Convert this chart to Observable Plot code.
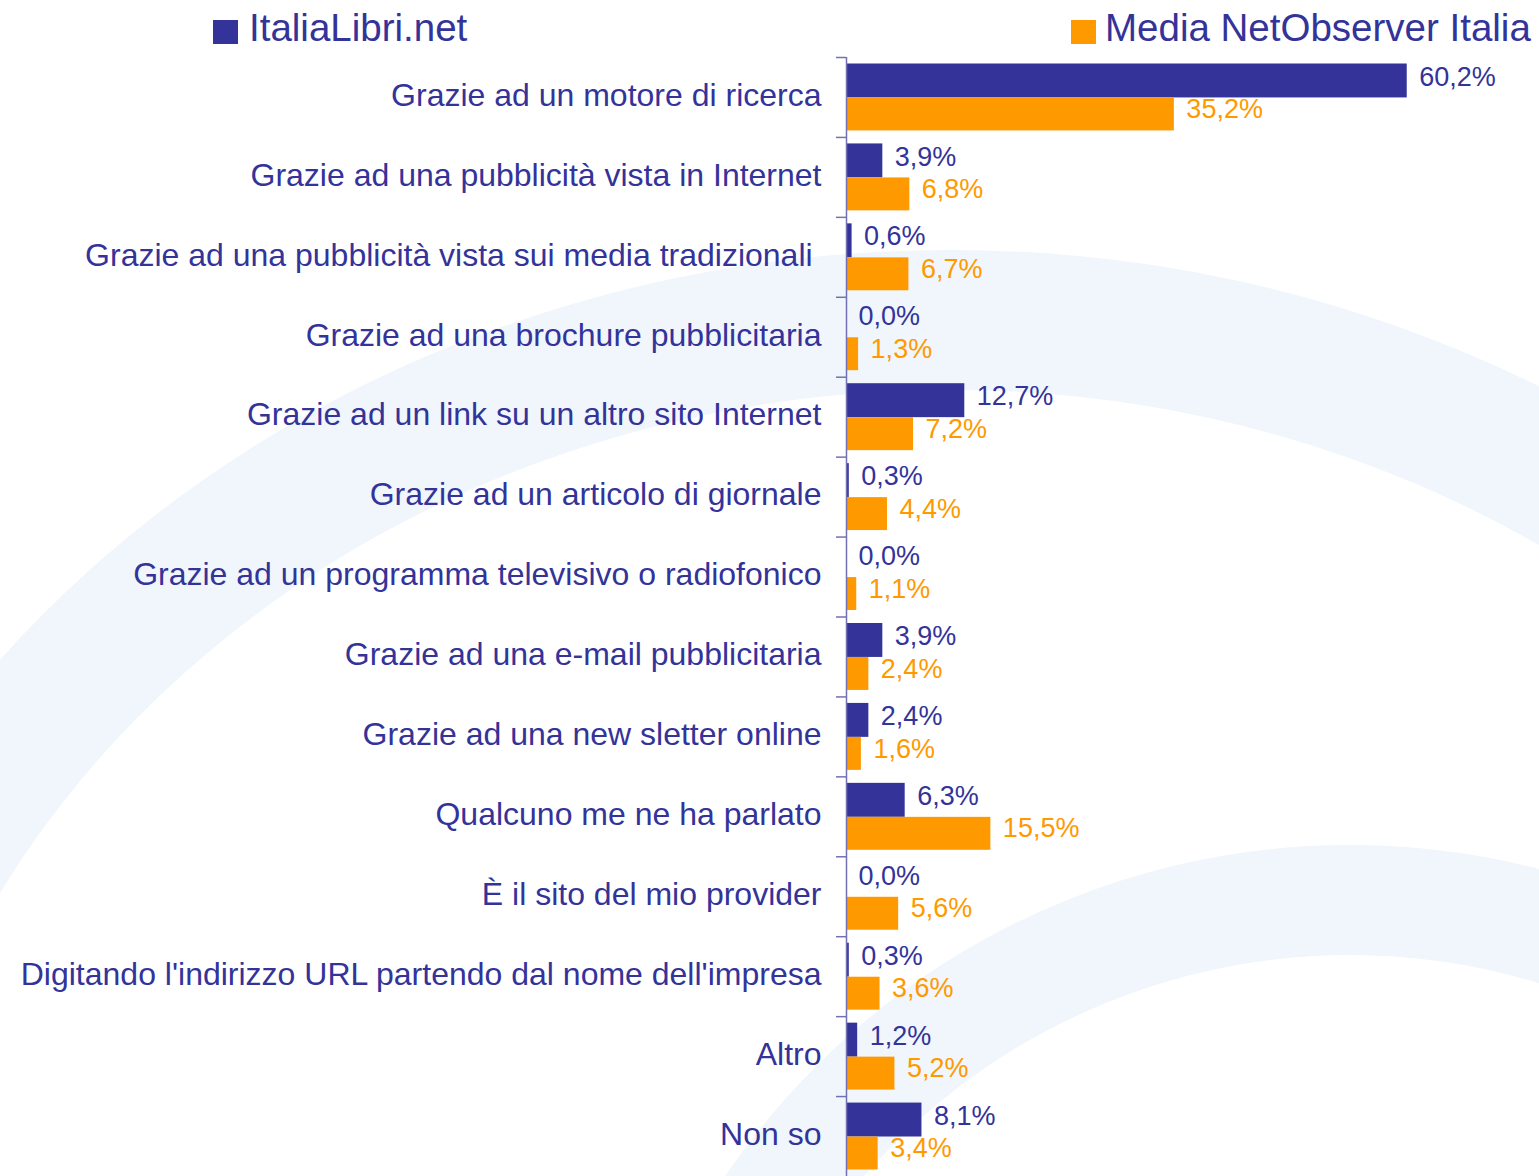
<!DOCTYPE html>
<html>
<head>
<meta charset="utf-8">
<script src="https://cdn.jsdelivr.net/npm/d3@7"></script>
<script src="https://cdn.jsdelivr.net/npm/@observablehq/plot@0.6"></script>
<style>
  html, body { margin: 0; padding: 0; background: #ffffff; }
  #wrap { position: relative; width: 1539px; height: 1176px; overflow: hidden; font-family: "Liberation Sans", Arial, sans-serif; }
  #bg { position: absolute; left: 0; top: 0; z-index: 0; }
  #legend-holder, #chart { position: relative; z-index: 1; line-height: 0; }
  #legend-holder svg, #chart svg { display: block; }
</style>
</head>
<body>
<div id="wrap">
  <svg id="bg" width="1539" height="1176">
    <ellipse cx="950" cy="1350" rx="1150" ry="1030" fill="none" stroke="#f0f6fc" stroke-width="140"/>
    <circle cx="1350" cy="1600" r="700" fill="none" stroke="#f0f6fc" stroke-width="110"/>
  </svg>
  <div id="legend-holder"></div>
  <div id="chart"></div>
</div>
<script>
const categories = [
  "Grazie ad un motore di ricerca",
  "Grazie ad una pubblicità vista in Internet",
  "Grazie ad una pubblicità vista sui media tradizionali\u00A0",
  "Grazie ad una brochure pubblicitaria",
  "Grazie ad un link su un altro sito Internet",
  "Grazie ad un articolo di giornale",
  "Grazie ad un programma televisivo o radiofonico",
  "Grazie ad una e-mail pubblicitaria",
  "Grazie ad una new sletter online",
  "Qualcuno me ne ha parlato",
  "È il sito del mio provider",
  "Digitando l'indirizzo URL partendo dal nome dell'impresa",
  "Altro",
  "Non so"
];
const seriesNames = ["ItaliaLibri.net", "Media NetObserver Italia"];
const italiaLibri = [60.2, 3.9, 0.6, 0.0, 12.7, 0.3, 0.0, 3.9, 2.4, 6.3, 0.0, 0.3, 1.2, 8.1];
const netObserver = [35.2, 6.8, 6.7, 1.3, 7.2, 4.4, 1.1, 2.4, 1.6, 15.5, 5.6, 3.6, 5.2, 3.4];

const NAVY = "#333399";
const ORANGE = "#ff9900";
const AXIS = "#7171b3";
const FONT = "'Liberation Sans', Arial, sans-serif";

const A = categories.map((c, i) => ({cat: c, series: seriesNames[0], value: italiaLibri[i]}));
const B = categories.map((c, i) => ({cat: c, series: seriesNames[1], value: netObserver[i]}));
const fmt = d => d.value.toFixed(1).replace(".", ",") + "%";

// Legend (above the plot SVG)
const legendSvg = d3.create("svg").attr("width", 1539).attr("height", 57);
const legendItems = [
  {name: seriesNames[0], color: NAVY, sx: 213, tx: 249},
  {name: seriesNames[1], color: ORANGE, sx: 1071, tx: 1105}
];
for (const it of legendItems) {
  legendSvg.append("rect").attr("x", it.sx).attr("y", 20).attr("width", 25).attr("height", 24).attr("fill", it.color);
  legendSvg.append("text")
    .attr("x", it.tx).attr("y", 41)
    .attr("font-family", FONT).attr("font-size", 38.5).attr("fill", NAVY)
    .text(it.name);
}
document.getElementById("legend-holder").appendChild(legendSvg.node());

const H = 1119;
const bw = H / categories.length;

const chart = Plot.plot({
  width: 1539,
  height: H,
  marginTop: 0,
  marginBottom: 0,
  marginLeft: 846,
  marginRight: 41,
  style: {fontFamily: FONT, background: "transparent", color: NAVY, overflow: "visible"},
  x: {domain: [0, 70], axis: null},
  y: {domain: categories, padding: 0, round: false, axis: null, label: null},
  marks: [
    Plot.barX(A, {x: "value", y: "cat", fill: NAVY, insetTop: 6.5, insetBottom: 39.5}),
    Plot.barX(B, {x: "value", y: "cat", fill: ORANGE, insetTop: 40.5, insetBottom: 6.5}),
    Plot.text(A, {x: "value", y: "cat", text: fmt, textAnchor: "start", dx: 12, dy: -20.5, fill: NAVY, fontSize: 27}),
    Plot.text(B, {x: "value", y: "cat", text: fmt, textAnchor: "start", dx: 12, dy: 12, fill: ORANGE, fontSize: 27}),
    Plot.ruleX([0], {stroke: AXIS, strokeWidth: 1.5}),
    Plot.axisY({tickSize: 0, tickPadding: 25, fontSize: 32, dy: -2, fill: NAVY, label: null}),
    Plot.axisY({tickSize: 10, dy: -bw / 2, tickFormat: () => "", stroke: AXIS, strokeWidth: 1.5, label: null})
  ]
});
document.getElementById("chart").appendChild(chart);
</script>
</body>
</html>
